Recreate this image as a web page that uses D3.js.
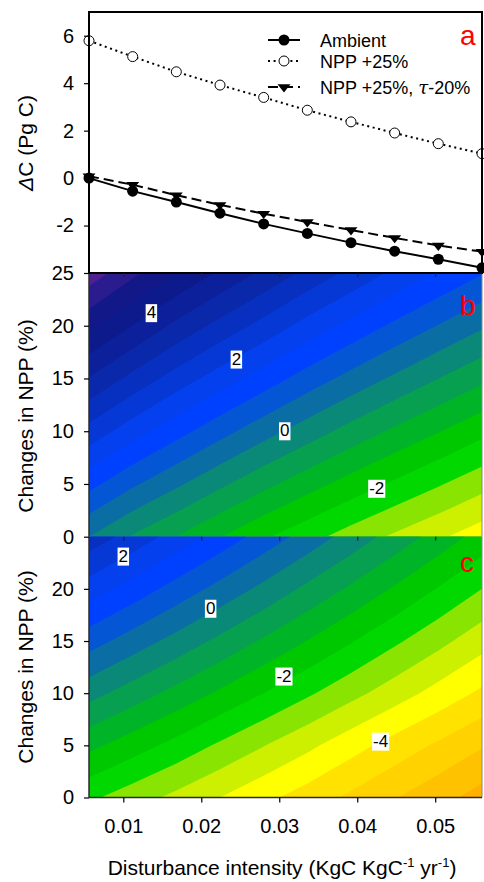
<!DOCTYPE html>
<html>
<head>
<meta charset="utf-8">
<script src="https://cdn.jsdelivr.net/npm/d3@7"></script>
<style>
  body { margin: 0; background: #fff; }
  text { font-family: "Liberation Sans", Arial, sans-serif; }
</style>
</head>
<body>
<div class="chart"></div>
<script>
const width = 484;
const height = 882;

// disturbance intensity (KgC KgC-1 yr-1)
const intensity = [0.0056, 0.0112, 0.0168, 0.0224, 0.028, 0.0336, 0.0392, 0.0448, 0.0504, 0.056];

// panel a: ΔC (Pg C)
const ambient = [0, -0.55, -1.01, -1.48, -1.93, -2.33, -2.72, -3.08, -3.42, -3.78];
const npp25 = [5.79, 5.12, 4.48, 3.92, 3.40, 2.86, 2.37, 1.90, 1.45, 1.03];
const npp25tau20 = [0.08, -0.28, -0.72, -1.13, -1.50, -1.85, -2.19, -2.52, -2.84, -3.10];
const legendNames = ["Ambient", "NPP +25%", "NPP +25%, "];

// panels b and c: rows are changes in NPP (%)
const nppChange = [0, 5, 10, 15, 20, 25];
const gridB = [
    [0, -0.55, -1.01, -1.48, -1.93, -2.33, -2.72, -3.08, -3.42, -3.78],
    [1.16, 0.58, 0.09, -0.40, -0.86, -1.29, -1.70, -2.08, -2.45, -2.82],
    [2.32, 1.72, 1.19, 0.68, 0.20, -0.25, -0.68, -1.09, -1.47, -1.86],
    [3.47, 2.85, 2.28, 1.76, 1.27, 0.78, 0.33, -0.09, -0.50, -0.89],
    [4.63, 3.99, 3.38, 2.84, 2.33, 1.82, 1.35, 0.90, 0.48, 0.07],
    [5.79, 5.12, 4.48, 3.92, 3.40, 2.86, 2.37, 1.90, 1.45, 1.03]
];
const gridC = [
    [-2.40, -2.77, -3.13, -3.50, -3.87, -4.23, -4.60, -4.97, -5.33, -5.70],
    [-1.36, -1.76, -2.16, -2.58, -2.98, -3.38, -3.80, -4.20, -4.58, -4.96],
    [-0.32, -0.74, -1.16, -1.58, -2.00, -2.42, -2.84, -3.26, -3.68, -4.10],
    [0.72, 0.27, -0.17, -0.62, -1.07, -1.51, -1.96, -2.41, -2.85, -3.30],
    [1.76, 1.29, 0.81, 0.34, -0.13, -0.61, -1.08, -1.55, -2.03, -2.50],
    [2.80, 2.30, 1.80, 1.30, 0.80, 0.30, -0.20, -0.70, -1.20, -1.70]
];

// contour levels and fill colours of the band above each level
const levels = [-6, -5.5, -5, -4.5, -4, -3.5, -3, -2.5, -2, -1.5, -1, -0.5,
    0, 0.5, 1, 1.5, 2, 2.5, 3, 3.5, 4, 4.5, 5, 5.5];
const levelColors = ["#ffb000", "#ffc200", "#ffd200", "#ffe200", "#ffff00", "#ccf000",
    "#88e400", "#00d800", "#00c800", "#00b428", "#06a050", "#0a8878",
    "#0a6ea4", "#0556d4", "#0040ff", "#0440ee", "#0638d6", "#0830c0",
    "#0a28aa", "#0b209a", "#0c1a8c", "#121888", "#2a1c8e", "#4e2092"];

// contour labels
const labelsB = ["4", "2", "0", "-2"];
const labelsBx = [0.0136, 0.0245, 0.0307, 0.0425];
const labelsBp = [21.3, 16.9, 10.1, 4.65];
const labelsC = ["2", "0", "-2", "-4"];
const labelsCx = [0.0100, 0.0212, 0.0306, 0.0430];
const labelsCp = [23.2, 18.2, 11.7, 5.46];

const ticksA = [-2, 0, 2, 4, 6];
const ticksB = [0, 5, 10, 15, 20, 25];
const ticksC = [0, 5, 10, 15, 20];
const ticksX = [0.01, 0.02, 0.03, 0.04, 0.05];

const left = 89, right = 482;
const aTop = 12, aBot = 273, bBot = 536.7, cBot = 797.5;

const svg = d3.select(".chart").append("svg")
    .attr("width", width)
    .attr("height", height);

const x = d3.scaleLinear().domain([0.0056, 0.056]).range([left, right]);
const yA = d3.scaleLinear().domain([-4, 7]).range([aBot, aTop]);
const yB = d3.scaleLinear().domain([0, 25]).range([bBot, aBot]);
const yC = d3.scaleLinear().domain([0, 25]).range([cBot, bBot]);

const defs = svg.append("defs");

function drawContour(grid, yScale, top, bottom, id, labels, lx, lp) {
    const nx = intensity.length, ny = nppChange.length;
    const dx = intensity[1] - intensity[0];
    const dp = nppChange[1] - nppChange[0];
    const proj = d3.geoTransform({
        point: function (c, r) {
            this.stream.point(x(intensity[0] + (c - 0.5) * dx),
                yScale(nppChange[0] + (r - 0.5) * dp));
        }
    });
    const path = d3.geoPath(proj);
    const contours = d3.contours().size([nx, ny]).thresholds(levels)(grid.flat());

    defs.append("clipPath").attr("id", id)
        .append("rect")
        .attr("x", left).attr("y", top)
        .attr("width", right - left).attr("height", bottom - top);

    const g = svg.append("g").attr("clip-path", `url(#${id})`);
    g.selectAll("path")
        .data(contours)
        .join("path")
        .attr("d", path)
        .attr("fill", (d, i) => levelColors[i]);

    // contour labels on white boxes
    labels.forEach((t, i) => {
        const lg = svg.append("g");
        const txt = lg.append("text")
            .attr("x", x(lx[i]))
            .attr("y", yScale(lp[i]))
            .attr("dy", "0.36em")
            .attr("text-anchor", "middle")
            .attr("font-size", 17)
            .attr("fill", "#000")
            .text(t);
        const bb = txt.node().getBBox();
        lg.insert("rect", "text")
            .attr("x", bb.x - 1)
            .attr("y", bb.y + 1)
            .attr("width", bb.width + 2)
            .attr("height", bb.height - 1)
            .attr("fill", "#fff");
    });

    // borders
    svg.append("line").attr("x1", right).attr("x2", right).attr("y1", top).attr("y2", bottom)
        .attr("stroke", "#888").attr("stroke-width", 1);
    svg.append("line").attr("x1", left).attr("x2", right).attr("y1", bottom).attr("y2", bottom)
        .attr("stroke", "#2a2a2a").attr("stroke-width", 1.5);
    svg.append("line").attr("x1", left).attr("x2", left).attr("y1", top).attr("y2", bottom)
        .attr("stroke", "#2a2a2a").attr("stroke-width", 1.5);
}

drawContour(gridB, yB, aBot, bBot, "clipB", labelsB, labelsBx, labelsBp);
drawContour(gridC, yC, bBot, cBot, "clipC", labelsC, labelsCx, labelsCp);

// panel a
const gA = svg.append("g");
gA.append("rect")
    .attr("x", left).attr("y", aTop)
    .attr("width", right - left).attr("height", aBot - aTop)
    .attr("fill", "#fff").attr("stroke", "none");

const line = d3.line().x((d, i) => x(intensity[i])).y(d => yA(d));

gA.append("path").datum(npp25).attr("d", line)
    .attr("fill", "none").attr("stroke", "#000").attr("stroke-width", 2)
    .attr("stroke-dasharray", "2,3.6");
gA.append("path").datum(npp25tau20).attr("d", line)
    .attr("fill", "none").attr("stroke", "#000").attr("stroke-width", 2)
    .attr("stroke-dasharray", "10,5");
gA.append("path").datum(ambient).attr("d", line)
    .attr("fill", "none").attr("stroke", "#000").attr("stroke-width", 2);

const tri = d3.symbol(d3.symbolTriangle, 60);

gA.selectAll(".tri").data(npp25tau20).join("path")
    .attr("class", "tri")
    .attr("d", tri)
    .attr("transform", (d, i) => `translate(${x(intensity[i])},${yA(d)}) rotate(180) scale(1.1,0.8)`)
    .attr("fill", "#000");
gA.selectAll(".amb").data(ambient).join("circle")
    .attr("class", "amb")
    .attr("cx", (d, i) => x(intensity[i])).attr("cy", d => yA(d))
    .attr("r", 5.5).attr("fill", "#000");
gA.selectAll(".npp").data(npp25).join("circle")
    .attr("class", "npp")
    .attr("cx", (d, i) => x(intensity[i])).attr("cy", d => yA(d))
    .attr("r", 5).attr("fill", "#fff").attr("stroke", "#000").attr("stroke-width", 1);

// frame of panel a
gA.append("rect")
    .attr("x", left).attr("y", aTop)
    .attr("width", right - left).attr("height", aBot - aTop)
    .attr("fill", "none").attr("stroke", "#000").attr("stroke-width", 2);

// legend
const legY = [40, 61, 87];
const leg = svg.append("g");
leg.append("line").attr("x1", 268).attr("x2", 300).attr("y1", legY[0]).attr("y2", legY[0])
    .attr("stroke", "#000").attr("stroke-width", 2);
leg.append("circle").attr("cx", 284).attr("cy", legY[0]).attr("r", 5.5).attr("fill", "#000");
leg.append("line").attr("x1", 268).attr("x2", 300).attr("y1", legY[1]).attr("y2", legY[1])
    .attr("stroke", "#000").attr("stroke-width", 2).attr("stroke-dasharray", "2,3.6");
leg.append("circle").attr("cx", 284).attr("cy", legY[1]).attr("r", 5)
    .attr("fill", "#fff").attr("stroke", "#000");
leg.append("line").attr("x1", 268).attr("x2", 300).attr("y1", legY[2]).attr("y2", legY[2])
    .attr("stroke", "#000").attr("stroke-width", 2).attr("stroke-dasharray", "10,5");
leg.append("path").attr("d", tri)
    .attr("transform", `translate(284,${legY[2]}) rotate(180) scale(1.1,0.8)`)
    .attr("fill", "#000");
legendNames.forEach((n, i) => {
    const t = leg.append("text")
        .attr("x", 320).attr("y", legY[i] + 6.5)
        .attr("font-size", 18).attr("fill", "#000")
        .text(n);
    if (i === 2) {
        t.append("tspan").attr("font-style", "italic").attr("font-family", "DejaVu Serif, serif").text("τ");
        t.append("tspan").text("-20%");
    }
});

// axes (plain hyphen for negatives, as in the original)
const plain = d => String(d);

function yAxis(scale, ticks) {
    const g = svg.append("g").attr("transform", `translate(${left},0)`)
        .call(d3.axisLeft(scale).tickValues(ticks).tickFormat(plain)
            .tickSize(5).tickPadding(10).tickSizeOuter(0));
    g.select(".domain").remove();
    g.selectAll("text").attr("font-size", 20).attr("font-family", "Liberation Sans, Arial, sans-serif").attr("fill", "#000");
    g.selectAll("line").attr("stroke", "#000").attr("stroke-width", 1.2);
}
yAxis(yA, ticksA);
yAxis(yB, ticksB);
yAxis(yC, ticksC);

[aBot, bBot].forEach(yy => {
    const g = svg.append("g").attr("transform", `translate(0,${yy})`)
        .call(d3.axisBottom(x).tickValues(ticksX).tickSize(4).tickFormat(""));
    g.select(".domain").remove();
    g.selectAll("line").attr("stroke", "#222").attr("stroke-width", 1.2);
});
const gx = svg.append("g").attr("transform", `translate(0,${cBot})`)
    .call(d3.axisBottom(x).tickValues(ticksX).tickSize(5).tickPadding(16).tickSizeOuter(0)
        .tickFormat(d3.format(".2f")));
gx.select(".domain").remove();
gx.selectAll("text").attr("font-size", 20).attr("font-family", "Liberation Sans, Arial, sans-serif").attr("fill", "#000");
gx.selectAll("line").attr("stroke", "#000").attr("stroke-width", 1.2);

// panel letters
[["a", 45], ["b", 315], ["c", 572]].forEach(([t, yy]) => {
    svg.append("text").attr("x", 460).attr("y", yy)
        .attr("font-size", 28).attr("fill", "#ff0000").text(t);
});

// axis titles
const tA = svg.append("text")
    .attr("transform", `translate(33,${143}) rotate(-90)`)
    .attr("text-anchor", "middle").attr("font-size", 21).attr("fill", "#000");
tA.append("tspan").attr("font-style", "italic").text("Δ");
tA.append("tspan").text("C (Pg C)");

[[416], [667]].forEach(([cy]) => {
    svg.append("text")
        .attr("transform", `translate(33,${cy}) rotate(-90)`)
        .attr("text-anchor", "middle").attr("font-size", 21).attr("fill", "#000")
        .text("Changes in NPP (%)");
});

const tx = svg.append("text")
    .attr("x", 282).attr("y", 875)
    .attr("text-anchor", "middle").attr("font-size", 21).attr("fill", "#000");
tx.append("tspan").text("Disturbance intensity (KgC KgC");
tx.append("tspan").attr("font-size", 13).attr("dy", -8).text("-1");
tx.append("tspan").attr("dy", 8).text(" yr");
tx.append("tspan").attr("font-size", 13).attr("dy", -8).text("-1");
tx.append("tspan").attr("dy", 8).text(")");
</script>
</body>
</html>
